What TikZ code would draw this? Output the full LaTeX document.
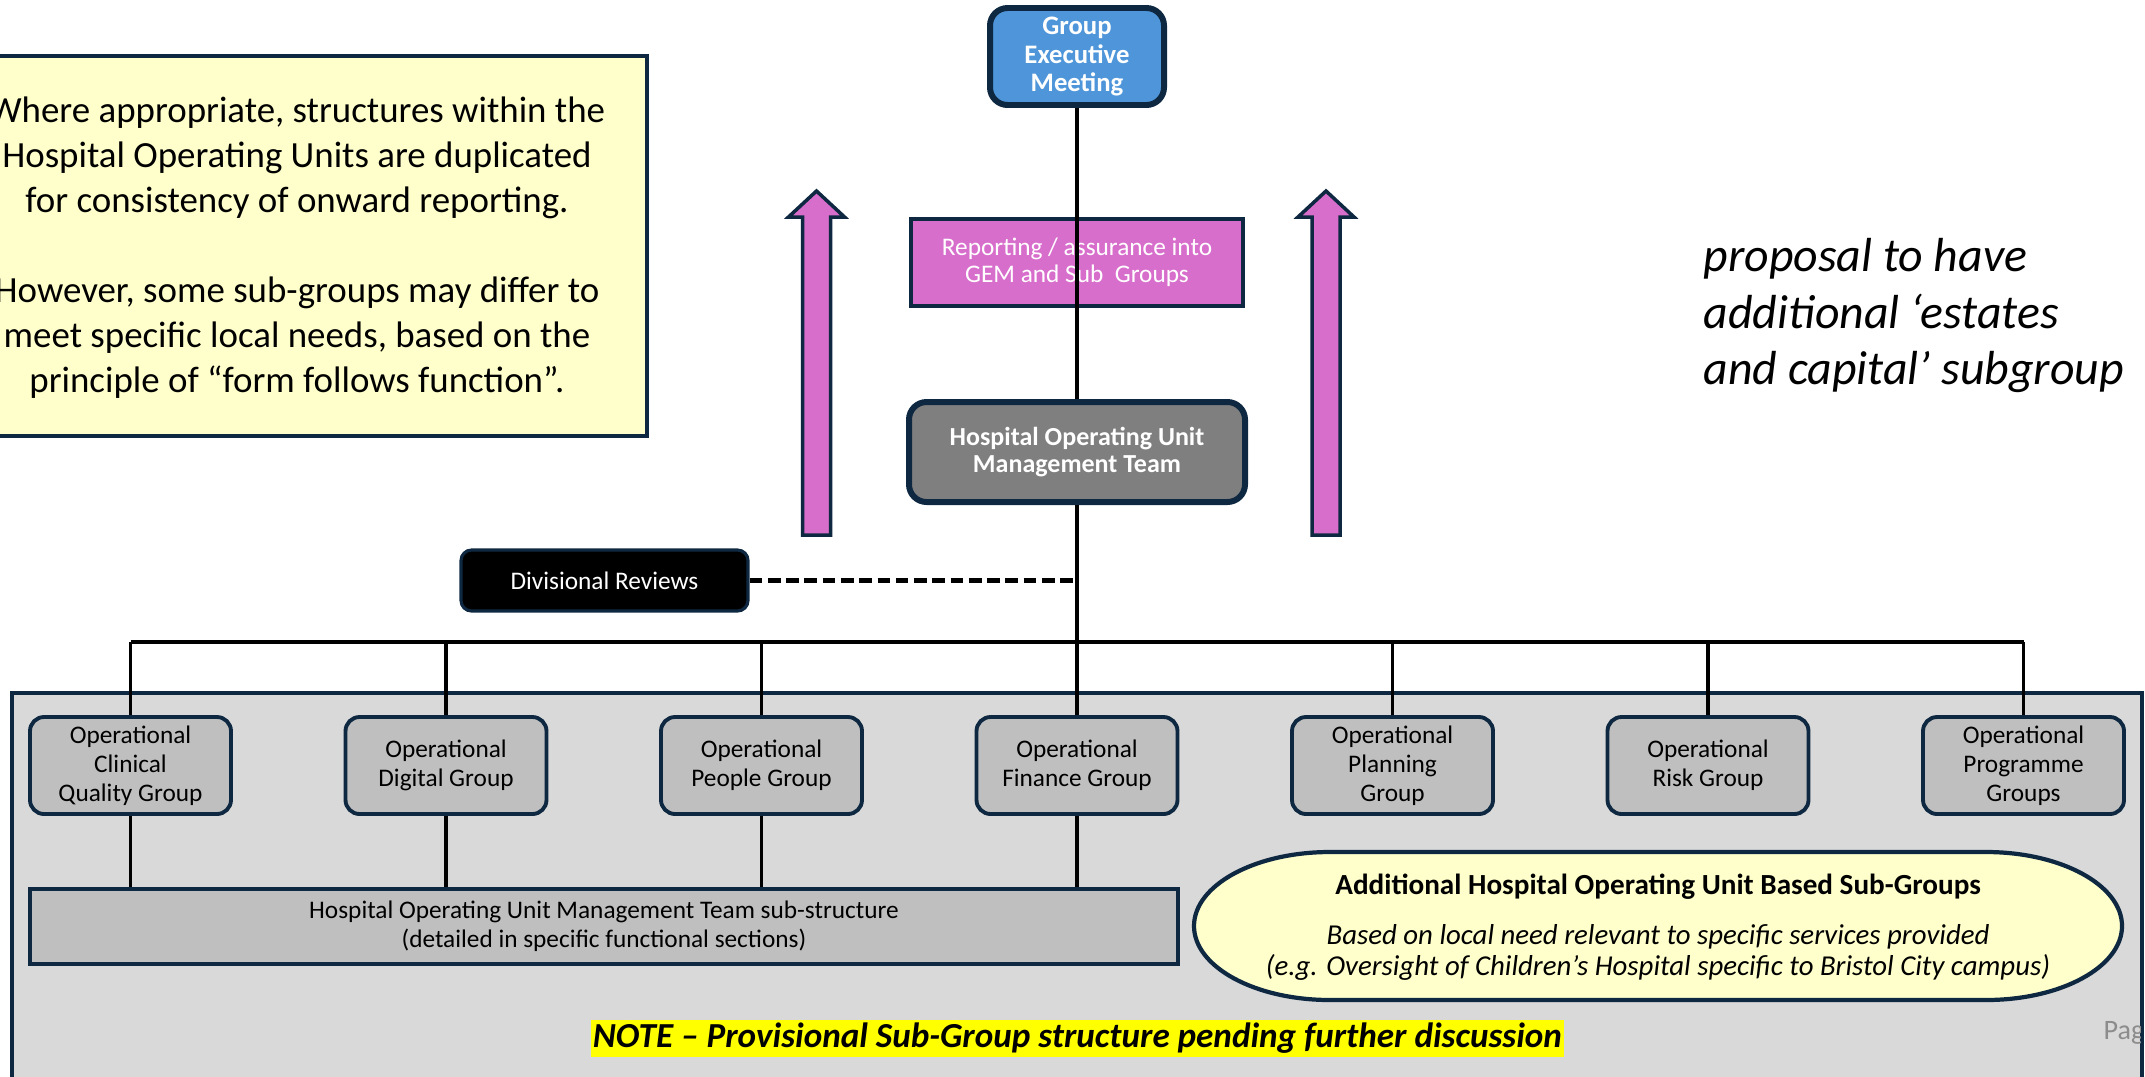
\documentclass[tikz,border=0pt]{standalone}
\usepackage{fontspec}
\setmainfont{Carlito}
\usepackage{tikz}
\usepackage{xcolor}
\usetikzlibrary{positioning}

\definecolor{navy}{HTML}{0E2841}
\definecolor{gemBlue}{HTML}{4E95D9}
\definecolor{orchid}{HTML}{D86ECC}
\definecolor{houGrey}{HTML}{7F7F7F}
\definecolor{opGrey}{HTML}{BFBFBF}
\definecolor{panelGrey}{HTML}{D9D9D9}
\definecolor{paleYellow}{HTML}{FFFFCC}
\definecolor{marker}{HTML}{FFFF00}
\definecolor{pageGrey}{HTML}{8C8C8C}

\newcommand{\fsz}[2]{\fontsize{#1}{#2}\selectfont}

\begin{document}
\begin{tikzpicture}[
    box/.style={draw=navy, line width=1.1pt, rounded corners=4pt, inner sep=0pt, align=center},
    flatbox/.style={draw=navy, line width=0.9pt, inner sep=0pt, align=center},
    opgroup/.style={box, fill=opGrey, minimum width=2.01cm, minimum height=0.97cm, font=\fsz{7.2}{8.2}},
    link/.style={line width=1.1pt},
]
    \useasboundingbox (0,0) rectangle (21.45,-10.76);

    % Sub-group panel
    \draw[navy, fill=panelGrey, line width=0.9pt] (0.12,-6.93) rectangle (21.42,-11.2);

    % Note box (top left)
    \draw[navy, fill=paleYellow, line width=0.9pt] (-0.6,-0.56) rectangle (6.47,-4.36);
    \node[align=center, font=\fsz{10.5}{12.8}] (duplicated) at (2.97,-2.48)
        {Where appropriate, structures within the\\Hospital Operating Units are duplicated\\for consistency of onward reporting.\\[12.8pt]
         However, some sub-groups may differ to\\meet specific local needs, based on the\\principle of “form follows function”.};

    % Upward reporting arrows
    \foreach \ax in {8.165, 13.26}
        \draw[navy, fill=orchid, line width=1pt] (\ax-0.14,-5.35) -- (\ax-0.14,-2.17) -- (\ax-0.28,-2.17)
            -- (\ax,-1.91) -- (\ax+0.28,-2.17) -- (\ax+0.14,-2.17) -- (\ax+0.14,-5.35) -- cycle;

    % Main chain
    \node[box, fill=gemBlue, line width=1.7pt, minimum width=1.74cm, minimum height=0.97cm, rounded corners=5pt,
          text=white, font=\bfseries\fsz{7.6}{8.1}] (gem) at (10.77,-0.565) {Group\\Executive\\Meeting};
    \node[flatbox, fill=orchid, minimum width=3.32cm, minimum height=0.87cm, text=white, font=\fsz{7.2}{7.7}]
        (report) at (10.77,-2.625) {Reporting / assurance into\\GEM and Sub~ Groups};
    \node[box, fill=houGrey, line width=1.7pt, minimum width=3.36cm, minimum height=1.0cm, rounded corners=5pt,
          text=white, font=\bfseries\fsz{7.4}{7.8}] (hou) at (10.77,-4.52) {Hospital Operating Unit\\Management Team};
    \node[box, fill=black, line width=0.9pt, minimum width=2.87cm, minimum height=0.61cm, rounded corners=3pt,
          text=white, font=\fsz{7.2}{8}] (divrev) at (6.045,-5.805) {Divisional Reviews};

    % Operational groups
    \foreach \i/\lbl in {1/{Operational\\Clinical\\Quality Group}, 2/{Operational\\Digital Group},
                         3/{Operational\\People Group}, 4/{Operational\\Finance Group},
                         5/{Operational\\Planning\\Group}, 6/{Operational\\Risk Group},
                         7/{Operational\\Programme\\Groups}}
        \node[opgroup] (op\i) at ({1.305+3.155*(\i-1)},-7.655) {\lbl};

    \node[flatbox, fill=opGrey, minimum width=11.48cm, minimum height=0.75cm, font=\fsz{7.2}{8.2}]
        (sub) at (6.04,-9.265) {Hospital Operating Unit Management Team sub-structure\\(detailed in specific functional sections)};

    % Additional sub-groups
    \draw[navy, fill=paleYellow, line width=1.2pt] (13.3,-8.52) -- (19.86,-8.52)
        arc[start angle=90, end angle=-90, x radius=1.36, y radius=0.74] -- (13.3,-10.0)
        arc[start angle=270, end angle=90, x radius=1.36, y radius=0.74] -- cycle;
    \node[align=center, font=\fsz{8.2}{8.8}] (extra) at (16.58,-9.27)
        {\fontsize{8.3}{8.8}\selectfont\bfseries Additional Hospital Operating Unit Based Sub-Groups\\[5.4pt]
         \itshape Based on local need relevant to specific services provided\\
         \itshape (e.g. Oversight of Children’s Hospital specific to Bristol City campus)};

    % Connectors
    \coordinate (bus) at (10.77,-6.42);
    \draw[link] (gem) -- (hou);
    \draw[link] (hou) -- (bus);
    \draw[line width=1.2pt, dash pattern=on 3.6pt off 1.6pt] (divrev.east) -- (divrev.east -| hou);
    \draw[link] (op1.north |- bus) -- (op7.north |- bus);
    \foreach \i in {1,...,7}
        \draw[link] (op\i.north |- bus) -- (op\i.north);
    \foreach \i in {1,...,4}
        \draw[link] (op\i) -- (op\i |- sub.north);

    \node[fill=marker, inner sep=0pt, minimum width=9.73cm, minimum height=0.37cm, font=\bfseries\itshape\fsz{10}{11}]
        (pending) at (10.775,-10.385) {NOTE – Provisional Sub-Group structure pending further discussion};

    \node[anchor=west, align=left, inner sep=0pt, font=\itshape\fsz{13.6}{16.2}] (proposal) at (17.03,-3.155)
        {proposal to have\\additional ‘estates\\and capital’ subgroup};

    \begin{scope}
        \clip (0.12,-6.93) rectangle (21.40,-11);
        \node[anchor=west, inner sep=0pt, text=pageGrey, font=\fsz{8}{9}] (page) at (21.03,-10.33) {Page};
    \end{scope}
\end{tikzpicture}
\end{document}
